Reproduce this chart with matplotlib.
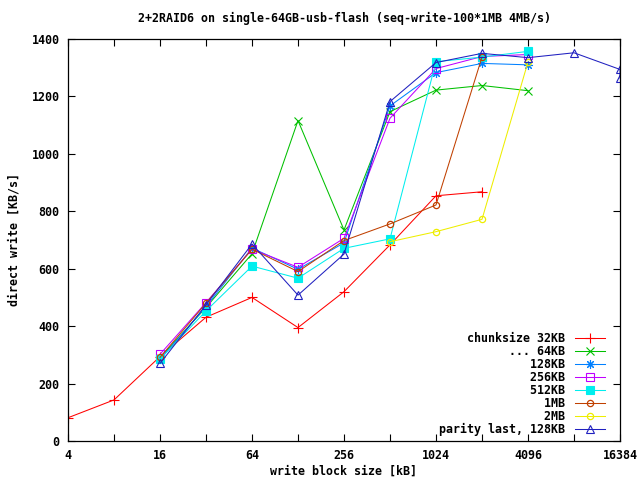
import matplotlib
matplotlib.use("Agg")
import matplotlib.pyplot as plt
from matplotlib.ticker import FixedLocator, FuncFormatter, NullLocator

title = "2+2RAID6 on single-64GB-usb-flash (seq-write-100*1MB 4MB/s)"
xlabel = "write block size [kB]"
ylabel = "direct write [KB/s]"

x_c32 = [4, 8, 16, 32, 64, 128, 256, 512, 1024, 2048]
y_c32 = [81, 143, 294, 431, 500, 395, 520, 683, 854, 868]

x_mid = [16, 32, 64, 128, 256, 512, 1024, 2048, 4096]
y_c64 = [290, 465, 652, 1116, 735, 1147, 1222, 1238, 1220]
y_c128 = [285, 468, 672, 598, 690, 1167, 1283, 1315, 1310]
y_c256 = [302, 482, 668, 605, 706, 1124, 1297, 1339, 1346]
y_c512 = [285, 453, 609, 567, 671, 704, 1321, 1337, 1357]

x_c1m = [16, 32, 64, 128, 256, 512, 1024, 2048]
y_c1m = [291, 480, 668, 590, 698, 756, 822, 1337]

x_c2m = [512, 1024, 2048, 4096]
y_c2m = [694, 729, 772, 1320]

x_par = [16, 32, 64, 128, 256, 512, 1024, 2048, 4096, 8192, 16384, 16384]
y_par = [270, 474, 686, 508, 651, 1182, 1318, 1350, 1335, 1352, 1294, 1264]

labels = ["chunksize 32KB", "... 64KB", "128KB", "256KB", "512KB", "1MB", "2MB",
          "parity last, 128KB"]
colors = ["#ff0000", "#00c000", "#0080ff", "#c000ff", "#00eeee", "#c04000", "#eeee00", "#2020c0"]

xticks = [4, 8, 16, 32, 64, 128, 256, 512, 1024, 2048, 4096, 8192, 16384]
xlabeled = [4, 16, 64, 256, 1024, 4096, 16384]
yticks = [0, 200, 400, 600, 800, 1000, 1200, 1400]

plt.rcParams['font.family'] = ['DejaVu Sans Mono']
plt.rcParams['font.weight'] = 'bold'
FS = 8.4

fig = plt.figure(figsize=(6.4, 4.8), dpi=100)
ax = fig.add_axes([68/640, 39/480, 552/640, 402/480])

series = [
    (x_c32, y_c32, dict(marker='+', ms=7, mew=0.8)),
    (x_mid, y_c64, dict(marker='x', ms=5.5, mew=0.8)),
    (x_mid, y_c128, dict(marker=(8, 2, 0), ms=6.5, mew=0.8)),
    (x_mid, y_c256, dict(marker='s', ms=5.5, mfc='none', mew=0.8)),
    (x_mid, y_c512, dict(marker='s', ms=5.5, mew=0.8)),
    (x_c1m, y_c1m, dict(marker='o', ms=4.5, mfc='none', mew=0.9)),
    (x_c2m, y_c2m, dict(marker='o', ms=4.5, mfc='none', mew=0.9)),
    (x_par, y_par, dict(marker='^', ms=6, mfc='none', mew=0.8)),
]
width = max(len(l) for l in labels)
for (xs, ys, kw), lab, c in zip(series, labels, colors):
    ax.plot(xs, ys, color=c, lw=0.75, label=lab.rjust(width), **kw)

ax.set_xscale('log', base=2)
ax.set_xlim(4, 16384)
ax.set_ylim(0, 1400)
ax.xaxis.set_major_locator(FixedLocator(xticks))
ax.xaxis.set_minor_locator(NullLocator())
ax.xaxis.set_major_formatter(FuncFormatter(lambda v, p: str(int(round(v))) if int(round(v)) in xlabeled else ""))
ax.yaxis.set_major_locator(FixedLocator(yticks))
ax.tick_params(direction='in', length=5, width=0.8, top=True, right=True, labelsize=FS, pad=6)
for s in ax.spines.values():
    s.set_linewidth(0.9)

ax.set_title(title, fontsize=FS, fontweight='bold', pad=12.5)
ax.set_xlabel(xlabel, fontsize=FS, fontweight='bold', labelpad=2)
ax.set_ylabel(ylabel, fontsize=FS, fontweight='bold', labelpad=8)

leg = ax.legend(loc='lower right', bbox_to_anchor=(0.99, -0.012), markerfirst=False,
                frameon=False, fontsize=FS, handlelength=2.6, labelspacing=0.0,
                borderaxespad=0.4, handletextpad=0.8)

fig.savefig("out.png", dpi=100)
